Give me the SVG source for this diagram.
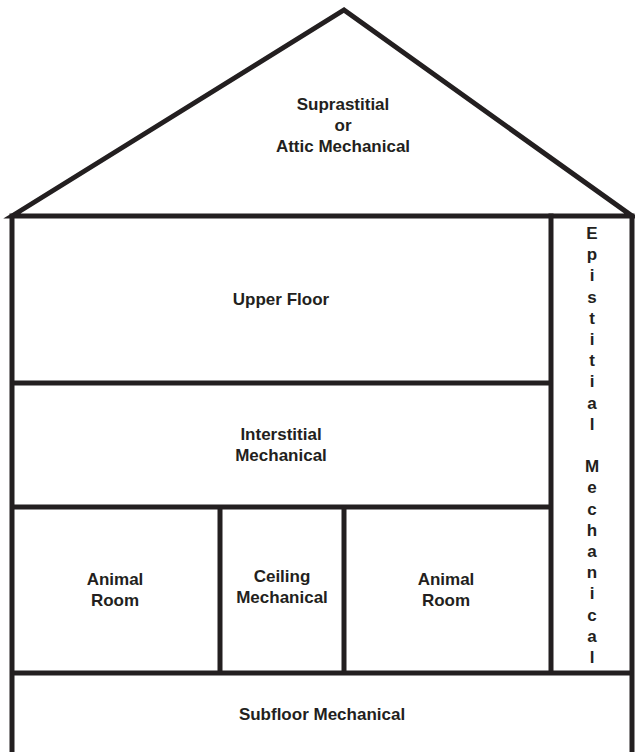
<svg xmlns="http://www.w3.org/2000/svg" width="635" height="752" viewBox="0 0 635 752">
<style>
.w{stroke:#231f20;stroke-width:5;fill:none;stroke-linecap:square;stroke-linejoin:miter}
.t{font-family:"Liberation Sans",Arial,sans-serif;font-weight:bold;font-size:17px;fill:#231f20;text-anchor:middle}
</style>
<rect width="635" height="752" fill="#fff"/>
<g id="walls">
<path class="w" d="M12,216 L344,10 L632,216 Z"/>
<path class="w" d="M12,216 V752 M632,216 V752 M551,216 V673 M12,383 H551 M12,507 H551 M12,673 H632 M220,507 V673 M344,507 V673"/>
</g>
<g id="attic"><text class="t" x="343" y="110">Suprastitial</text><text class="t" x="343" y="131">or</text><text class="t" x="343" y="152">Attic Mechanical</text></g>
<g id="upper"><text class="t" x="281" y="305">Upper Floor</text></g>
<g id="interstitial"><text class="t" x="281" y="440">Interstitial</text><text class="t" x="281" y="461">Mechanical</text></g>
<g id="animal1"><text class="t" x="115" y="585">Animal</text><text class="t" x="115" y="606">Room</text></g>
<g id="ceiling"><text class="t" x="282" y="582">Ceiling</text><text class="t" x="282" y="603">Mechanical</text></g>
<g id="animal2"><text class="t" x="446" y="585">Animal</text><text class="t" x="446" y="606">Room</text></g>
<g id="subfloor"><text class="t" x="322" y="720">Subfloor Mechanical</text></g>
<g id="epistitial"><text class="t" x="592" y="239"><tspan x="592">E</tspan><tspan x="592" dy="21.2">p</tspan><tspan x="592" dy="21.2">i</tspan><tspan x="592" dy="21.2">s</tspan><tspan x="592" dy="21.2">t</tspan><tspan x="592" dy="21.2">i</tspan><tspan x="592" dy="21.2">t</tspan><tspan x="592" dy="21.2">i</tspan><tspan x="592" dy="21.2">a</tspan><tspan x="592" dy="21.2">l</tspan><tspan x="592" dy="42.4">M</tspan><tspan x="592" dy="21.2">e</tspan><tspan x="592" dy="21.2">c</tspan><tspan x="592" dy="21.2">h</tspan><tspan x="592" dy="21.2">a</tspan><tspan x="592" dy="21.2">n</tspan><tspan x="592" dy="21.2">i</tspan><tspan x="592" dy="21.2">c</tspan><tspan x="592" dy="21.2">a</tspan><tspan x="592" dy="21.2">l</tspan></text></g>
</svg>
